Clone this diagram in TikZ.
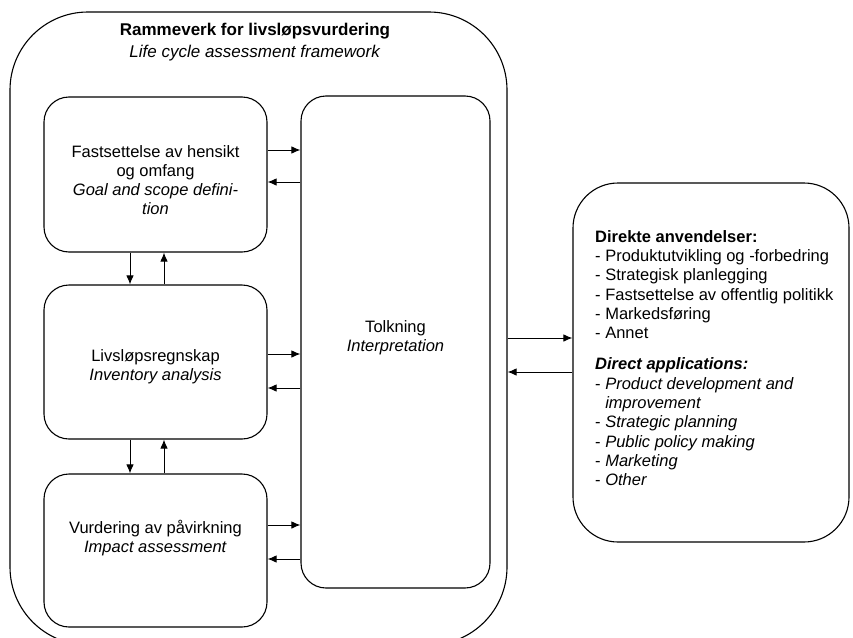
\documentclass[tikz,border=0pt]{standalone}
\usepackage{fontspec}
\setmainfont{Liberation Sans}
\usetikzlibrary{arrows.meta}
\begin{document}
\begin{tikzpicture}[x=1pt,y=-1pt,
  box/.style={draw, line width=1.1pt, rounded corners=25pt, inner sep=0pt},
  lbl/.style={align=center, font=\fontsize{16.5}{19}\selectfont, inner sep=0pt},
  arr/.style={line width=1pt, -{Latex[length=9pt,width=7.5pt]}}]
\useasboundingbox (0,0) rectangle (853,637);
\clip (0,0) rectangle (853,637);
% outer frame
\node[draw, line width=1.1pt, rounded corners=78pt, minimum width=497pt, minimum height=633pt] (frame) at (258.5,328.5) {};
\node[lbl, font=\fontsize{17}{22}\selectfont] (title) at (255,42) {\textbf{Rammeverk for livsløpsvurdering}\\\textit{Life cycle assessment framework}};
% boxes
\node[box, minimum width=223pt, minimum height=155pt] (g) at (155.5,174.5) {};
\node[box, minimum width=223pt, minimum height=154pt] (inv) at (155.5,362) {};
\node[box, minimum width=223pt, minimum height=153pt] (imp) at (155.5,550.5) {};
\node[box, minimum width=189pt, minimum height=492pt] (i) at (395.5,342) {};
\node[box, rounded corners=45pt, minimum width=276pt, minimum height=359pt] (apps) at (711,362.5) {};
% texts
\node[lbl] (gt) at (155.5,180) {Fastsettelse av hensikt\\og omfang\\\textit{Goal and scope defini-}\\\textit{tion}};
\node[lbl] (invt) at (155.5,367) {Livsløpsregnskap\\\textit{Inventory analysis}};
\node[lbl] (impt) at (155.5,538) {Vurdering av påvirkning\\\textit{Impact assessment}};
\node[lbl] (it) at (395.5,338) {Tolkning\\\textit{Interpretation}};
\node[lbl, font=\fontsize{16.5}{19.3}\selectfont, align=left, anchor=north west] (appst) at (595,230) {\textbf{Direkte anvendelser:}\\
- Produktutvikling og -forbedring\\
- Strategisk planlegging\\
- Fastsettelse av offentlig politikk\\
- Markedsføring\\
- Annet\\[12pt]
\textbf{\textit{Direct applications:}}\\
- \textit{Product development and}\\
\phantom{- }\textit{improvement}\\
- \textit{Strategic planning}\\
- \textit{Public policy making}\\
- \textit{Marketing}\\
- \textit{Other}};
% horizontal arrows
\draw[arr] (g.east |- 0,150) -- (i.west |- 0,150);
\draw[arr] (i.west |- 0,182) -- (g.east |- 0,182);
\draw[arr] (inv.east |- 0,354) -- (i.west |- 0,354);
\draw[arr] (i.west |- 0,388) -- (inv.east |- 0,388);
\draw[arr] (imp.east |- 0,525) -- (i.west |- 0,525);
\draw[arr] (i.west |- 0,559) -- (imp.east |- 0,559);
\draw[arr] (frame.east |- 0,338) -- (apps.west |- 0,338);
\draw[arr] (apps.west |- 0,372) -- (frame.east |- 0,372);
% vertical arrows
\draw[arr] (g.south -| 130,0) -- (inv.north -| 130,0);
\draw[arr] (inv.north -| 164,0) -- (g.south -| 164,0);
\draw[arr] (inv.south -| 130,0) -- (imp.north -| 130,0);
\draw[arr] (imp.north -| 164,0) -- (inv.south -| 164,0);
\end{tikzpicture}
\end{document}
